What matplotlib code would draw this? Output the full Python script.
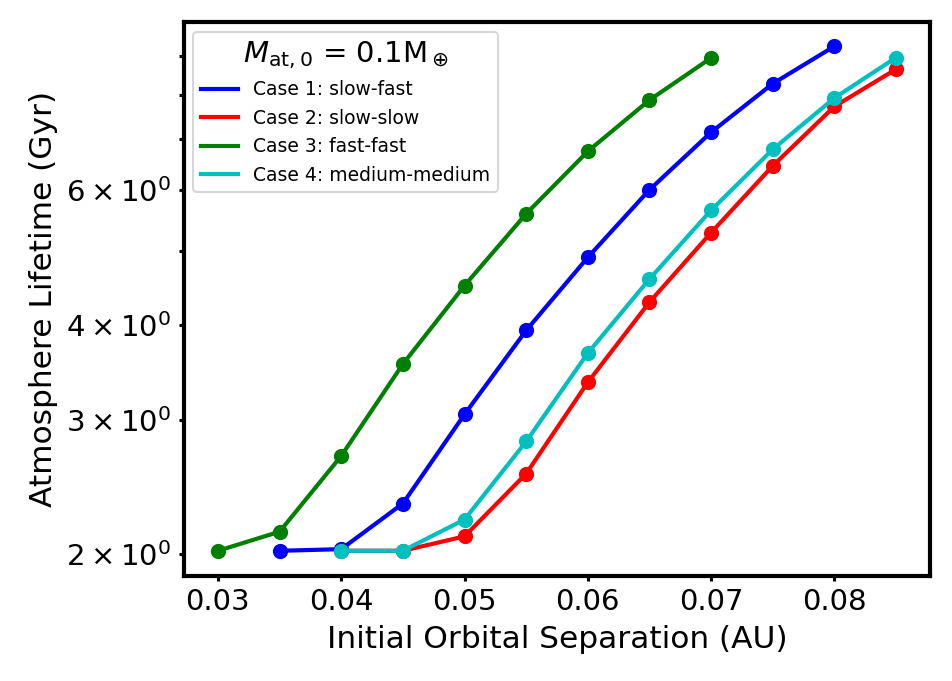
import numpy as np
import matplotlib
matplotlib.use('Agg')
import matplotlib.pyplot as plt

# initial orbital separation (AU)
a1 = [0.035, 0.04, 0.045, 0.05, 0.055, 0.06, 0.065, 0.07, 0.075, 0.08]
a2 = [0.04, 0.045, 0.05, 0.055, 0.06, 0.065, 0.07, 0.075, 0.08, 0.085]
a3 = [0.03, 0.035, 0.04, 0.045, 0.05, 0.055, 0.06, 0.065, 0.07]
a4 = [0.04, 0.045, 0.05, 0.055, 0.06, 0.065, 0.07, 0.075, 0.08, 0.085]

# atmosphere lifetime (Gyr)
t1 = [2.02, 2.03, 2.33, 3.05, 3.93, 4.90, 6.01, 7.15, 8.28, 9.27]
t2 = [2.02, 2.02, 2.11, 2.55, 3.36, 4.28, 5.28, 6.46, 7.73, 8.65]
t3 = [2.02, 2.14, 2.69, 3.55, 4.50, 5.59, 6.75, 7.88, 8.95]
t4 = [2.02, 2.02, 2.22, 2.81, 3.67, 4.59, 5.65, 6.79, 7.93, 8.96]

labels = ['Case 1: slow-fast', 'Case 2: slow-slow', 'Case 3: fast-fast', 'Case 4: medium-medium']

fig = plt.figure(figsize=(952/150, 681/150), dpi=150)
ax = fig.add_axes([0.1933, 0.1542, 0.7836, 0.8128])

ax.plot(a1, t1, 'b-o', lw=2, ms=6.3, label=labels[0])
ax.plot(a2, t2, 'r-o', lw=2, ms=6.3, label=labels[1])
ax.plot(a3, t3, 'g-o', lw=2, ms=6.3, label=labels[2])
ax.plot(a4, t4, 'c-o', lw=2, ms=6.3, label=labels[3])

ax.set_yscale('log')
ax.set_ylim(1.872, 9.96)
ax.set_xlabel('Initial Orbital Separation (AU)', fontsize=15)
ax.set_ylabel('Atmosphere Lifetime (Gyr)', fontsize=15)
ax.tick_params(which='both', labelsize=14, length=2.5, width=1.5)
for s in ax.spines.values():
    s.set_linewidth(2)

leg = ax.legend(loc='upper left', fontsize=9,
                title=r'$M_{\rm at,0}$ = 0.1M$_\oplus$', title_fontsize=14)
for h in leg.legend_handles:
    h.set_marker('')

fig.savefig('out.png', dpi=150)
